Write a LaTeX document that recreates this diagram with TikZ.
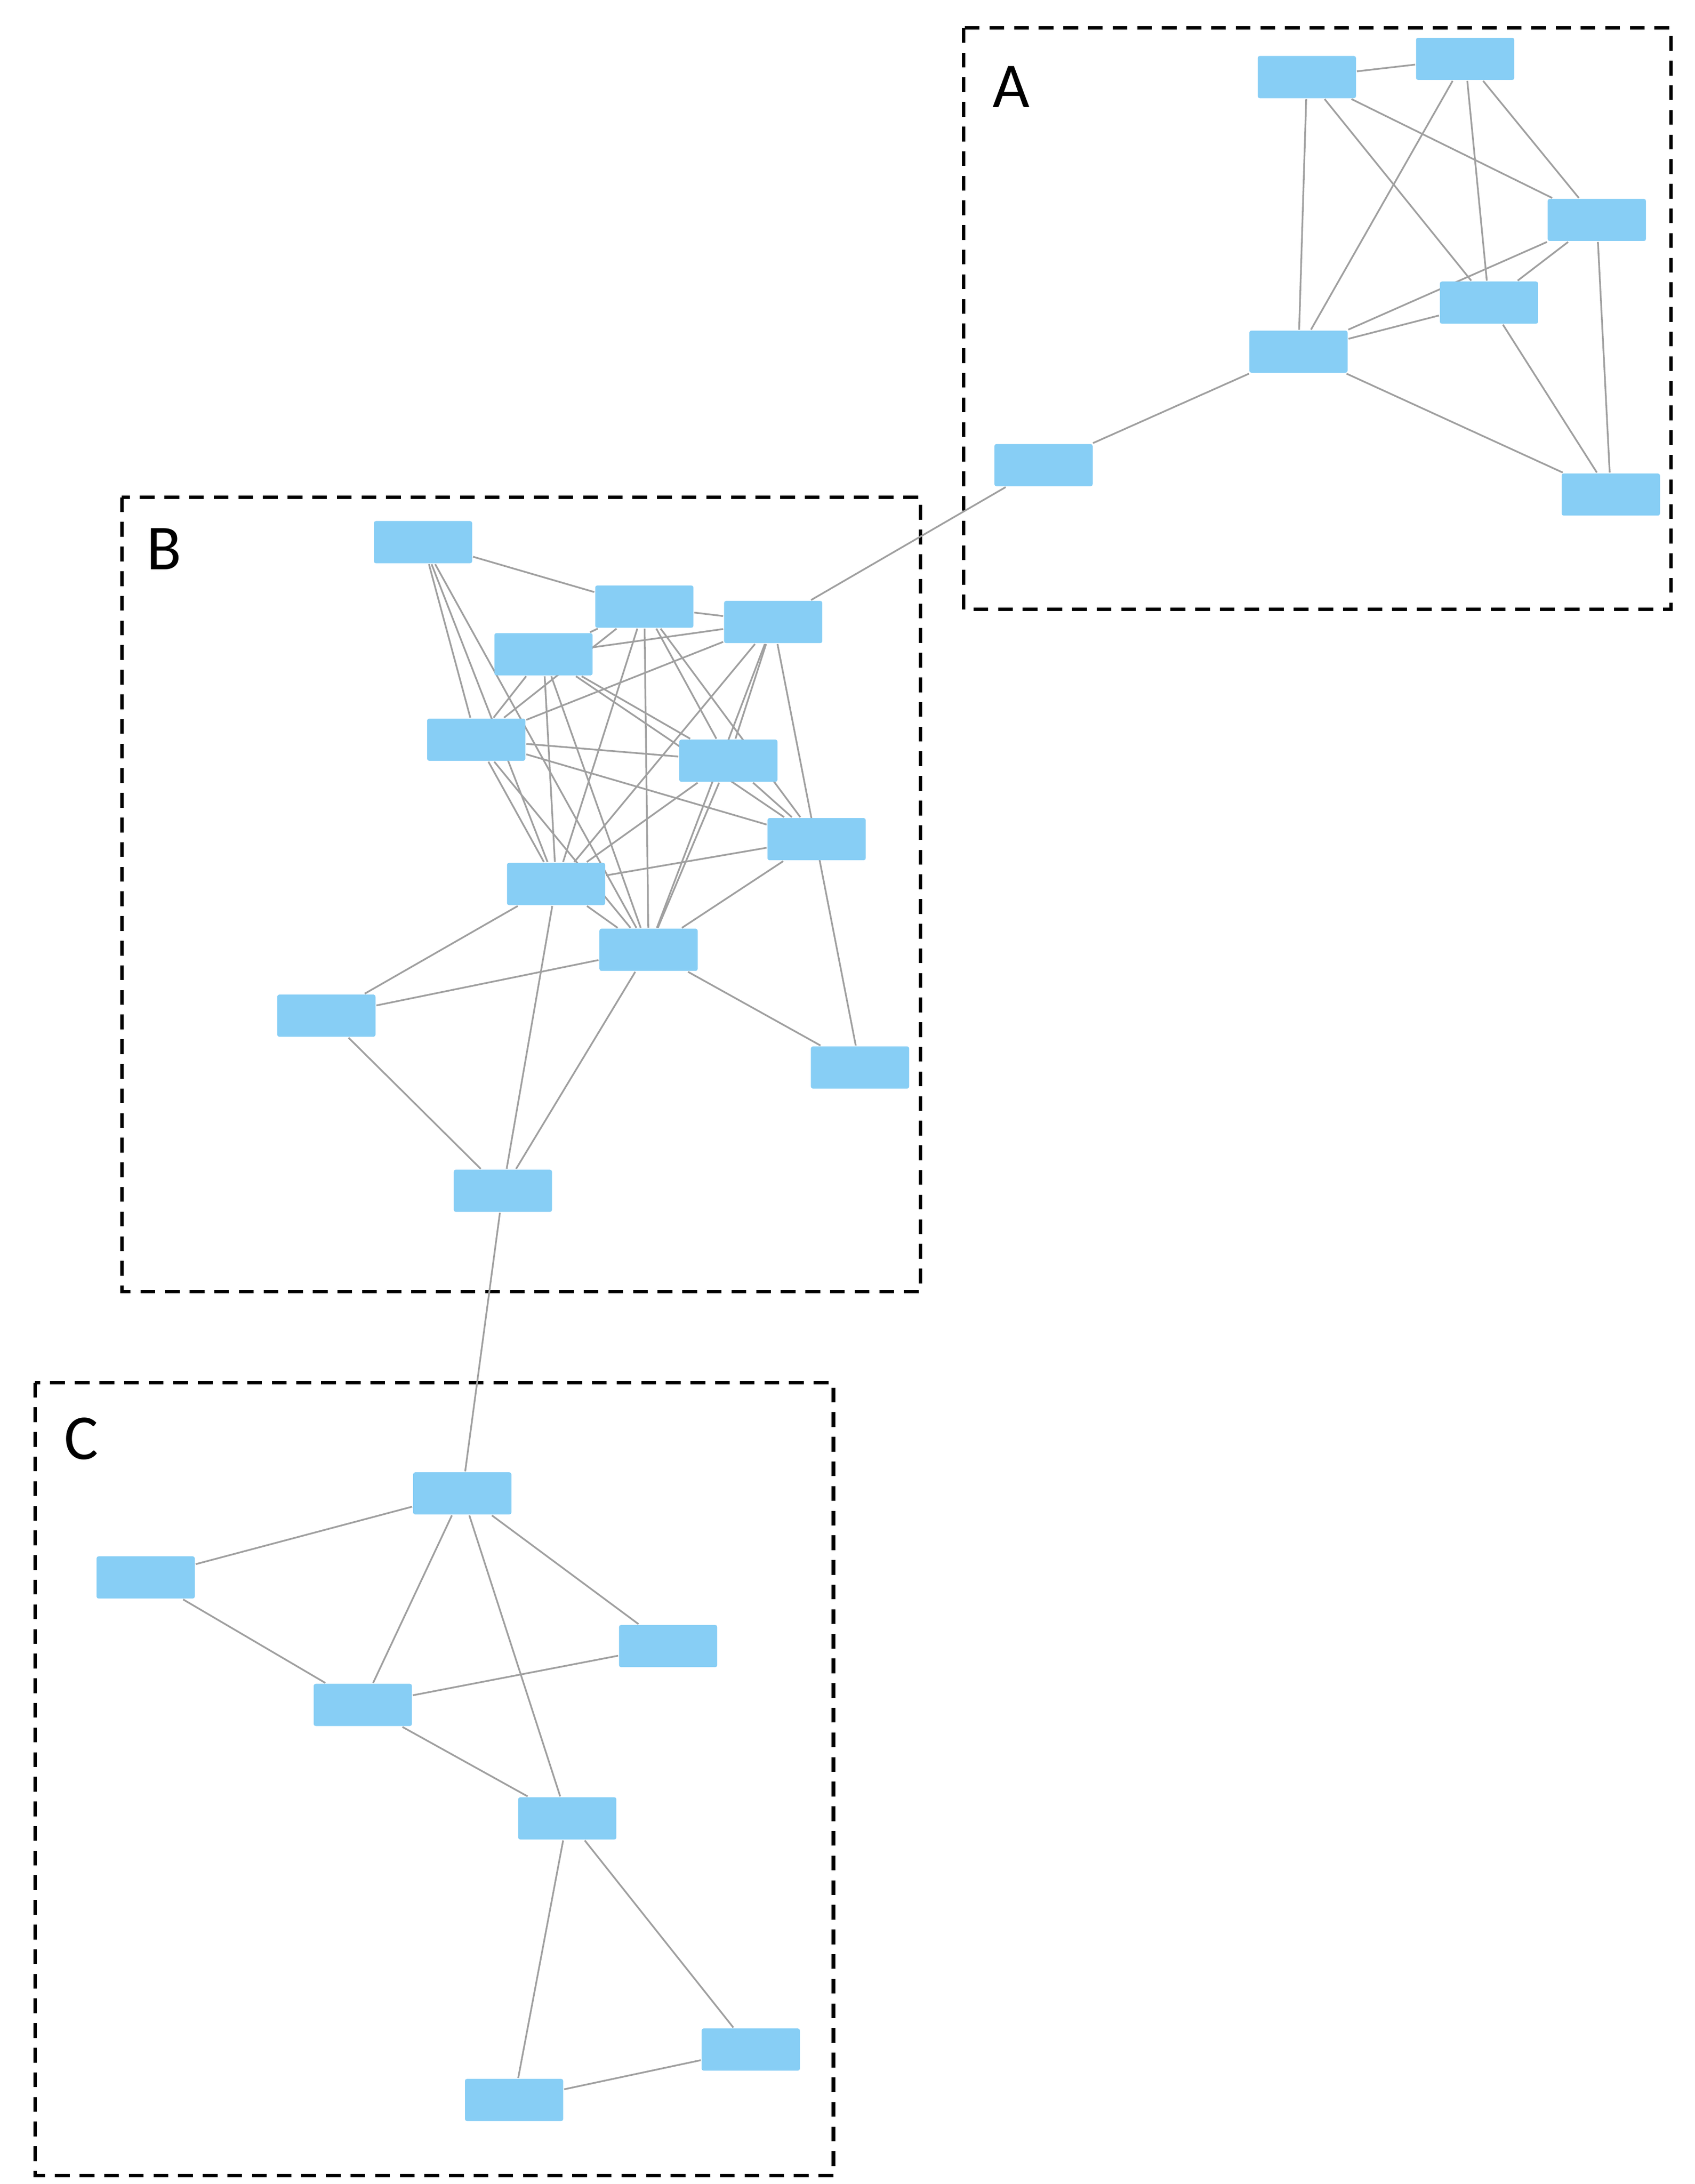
\documentclass[tikz,border=0pt]{standalone}
\usepackage{fontspec}
\setmainfont{Carlito}
\newfontfamily\labfont{Liberation Sans}
\usetikzlibrary{positioning}
\definecolor{nodeblue}{RGB}{135,206,245}
\definecolor{edgegray}{RGB}{160,160,160}

\begin{document}
\begin{tikzpicture}[x=0.01cm, y=-0.01cm,
	gene/.style = {rectangle, rounded corners = .4pt, fill = nodeblue, minimum width = .7cm, minimum height = .3cm, inner sep = 0pt, font = \labfont\fontsize{3.6}{4}\selectfont, text = black!80},
	link/.style = {-, edgegray, line width = .35pt},
	group/.style = {dashed, line width = .7pt, dash pattern = on 3pt off 2pt},
	tag/.style = {font = \fontsize{13}{14}\selectfont, anchor = center}]
	\useasboundingbox (0,0) rectangle (1210,1559);
	
	% group boxes
	\draw[group] (688,20) rectangle (1193,435);
	\draw[group] (87,355) rectangle (657,922);
	\draw[group] (25,987) rectangle (595,1553);
	\node[tag] (tA) at (722,62) {A};
	\node[tag] (tB) at (117,392) {B};
	\node[tag] (tC) at (58,1027) {C};
	
	% group A
	\node[gene] (VV9) at (933,55) {MTTVV9};
	\node[gene] (GK7) at (1046,42) {MTTGK7};
	\node[gene] (UZ2) at (1140,157) {MTTUZ2};
	\node[gene] (UB19) at (1063,216) {MTUB19};
	\node[gene] (BW4) at (927,251) {MTUBW4};
	\node[gene] (DN0) at (745,332) {MTTDN0};
	\node[gene] (UP6) at (1150,353) {MTU1P6};
	
	% group B
	\node[gene] (RN5) at (302,387) {MTTRN5};
	\node[gene] (DT2) at (460,433) {MTUDT2};
	\node[gene] (WS7) at (552,444) {MTUWS7};
	\node[gene] (UX6) at (388,467) {MTUUX6};
	\node[gene] (RX7) at (340,528) {MTURX7};
	\node[gene] (ZT2) at (520,543) {MTTZT2};
	\node[gene] (TJ8) at (583,599) {MTUTJ8};
	\node[gene] (EH3) at (397,631) {MTUEH3};
	\node[gene] (VAT) at (463,678) {MTTVAT};
	\node[gene] (Z32) at (233,725) {MTTZ32};
	\node[gene] (U186) at (614,762) {MTU186};
	\node[gene] (MZ7) at (359,850) {MTTMZ7};
	
	% group C
	\node[gene] (TB7) at (330,1066) {MTTTB7};
	\node[gene] (K8) at (104,1126) {MTU1K8};
	\node[gene] (U685) at (477,1175) {MTU685};
	\node[gene] (TB8) at (259,1217) {MTTTB8};
	\node[gene] (M13) at (405,1298) {MTTM13};
	\node[gene] (S91) at (536,1463) {MTTS91};
	\node[gene] (BK2) at (367,1499) {MTUBK2};
	
	\begin{scope}[on background layer/.style={}]
	\foreach \a/\b in {VV9/GK7, VV9/UZ2, VV9/UB19, VV9/BW4, GK7/BW4, GK7/UB19, GK7/UZ2,
		UZ2/UB19, UZ2/BW4, UB19/BW4, UZ2/UP6, UB19/UP6, BW4/UP6, BW4/DN0, DN0/WS7,
		RN5/DT2, RN5/RX7, RN5/EH3, RN5/VAT,
		DT2/WS7, DT2/UX6, DT2/RX7, DT2/EH3, DT2/VAT, DT2/ZT2, DT2/TJ8,
		WS7/UX6, WS7/RX7, WS7/EH3, WS7/VAT, WS7/ZT2, WS7/U186,
		UX6/RX7, UX6/EH3, UX6/VAT, UX6/ZT2, UX6/TJ8,
		RX7/ZT2, RX7/TJ8, RX7/EH3, RX7/VAT,
		ZT2/EH3, ZT2/VAT, ZT2/TJ8, TJ8/EH3, TJ8/VAT,
		EH3/VAT, EH3/Z32, EH3/MZ7, VAT/Z32, VAT/U186, VAT/MZ7, Z32/MZ7, MZ7/TB7,
		TB7/K8, TB7/TB8, TB7/U685, TB7/M13, K8/TB8, TB8/U685, TB8/M13,
		M13/BK2, M13/S91, BK2/S91}
		\path (\a) edge[link] (\b);
	\end{scope}
	
	% redraw boxes on top of edges
	\foreach \n in {VV9, GK7, UZ2, UB19, BW4, DN0, UP6, RN5, DT2, WS7, UX6, RX7, ZT2, TJ8, EH3, VAT, Z32, U186, MZ7, TB7, K8, U685, TB8, M13, S91, BK2}
		\node[gene, text opacity = 0, fill opacity = 1] at (\n) {MTTVV9};
\end{tikzpicture}
\end{document}
